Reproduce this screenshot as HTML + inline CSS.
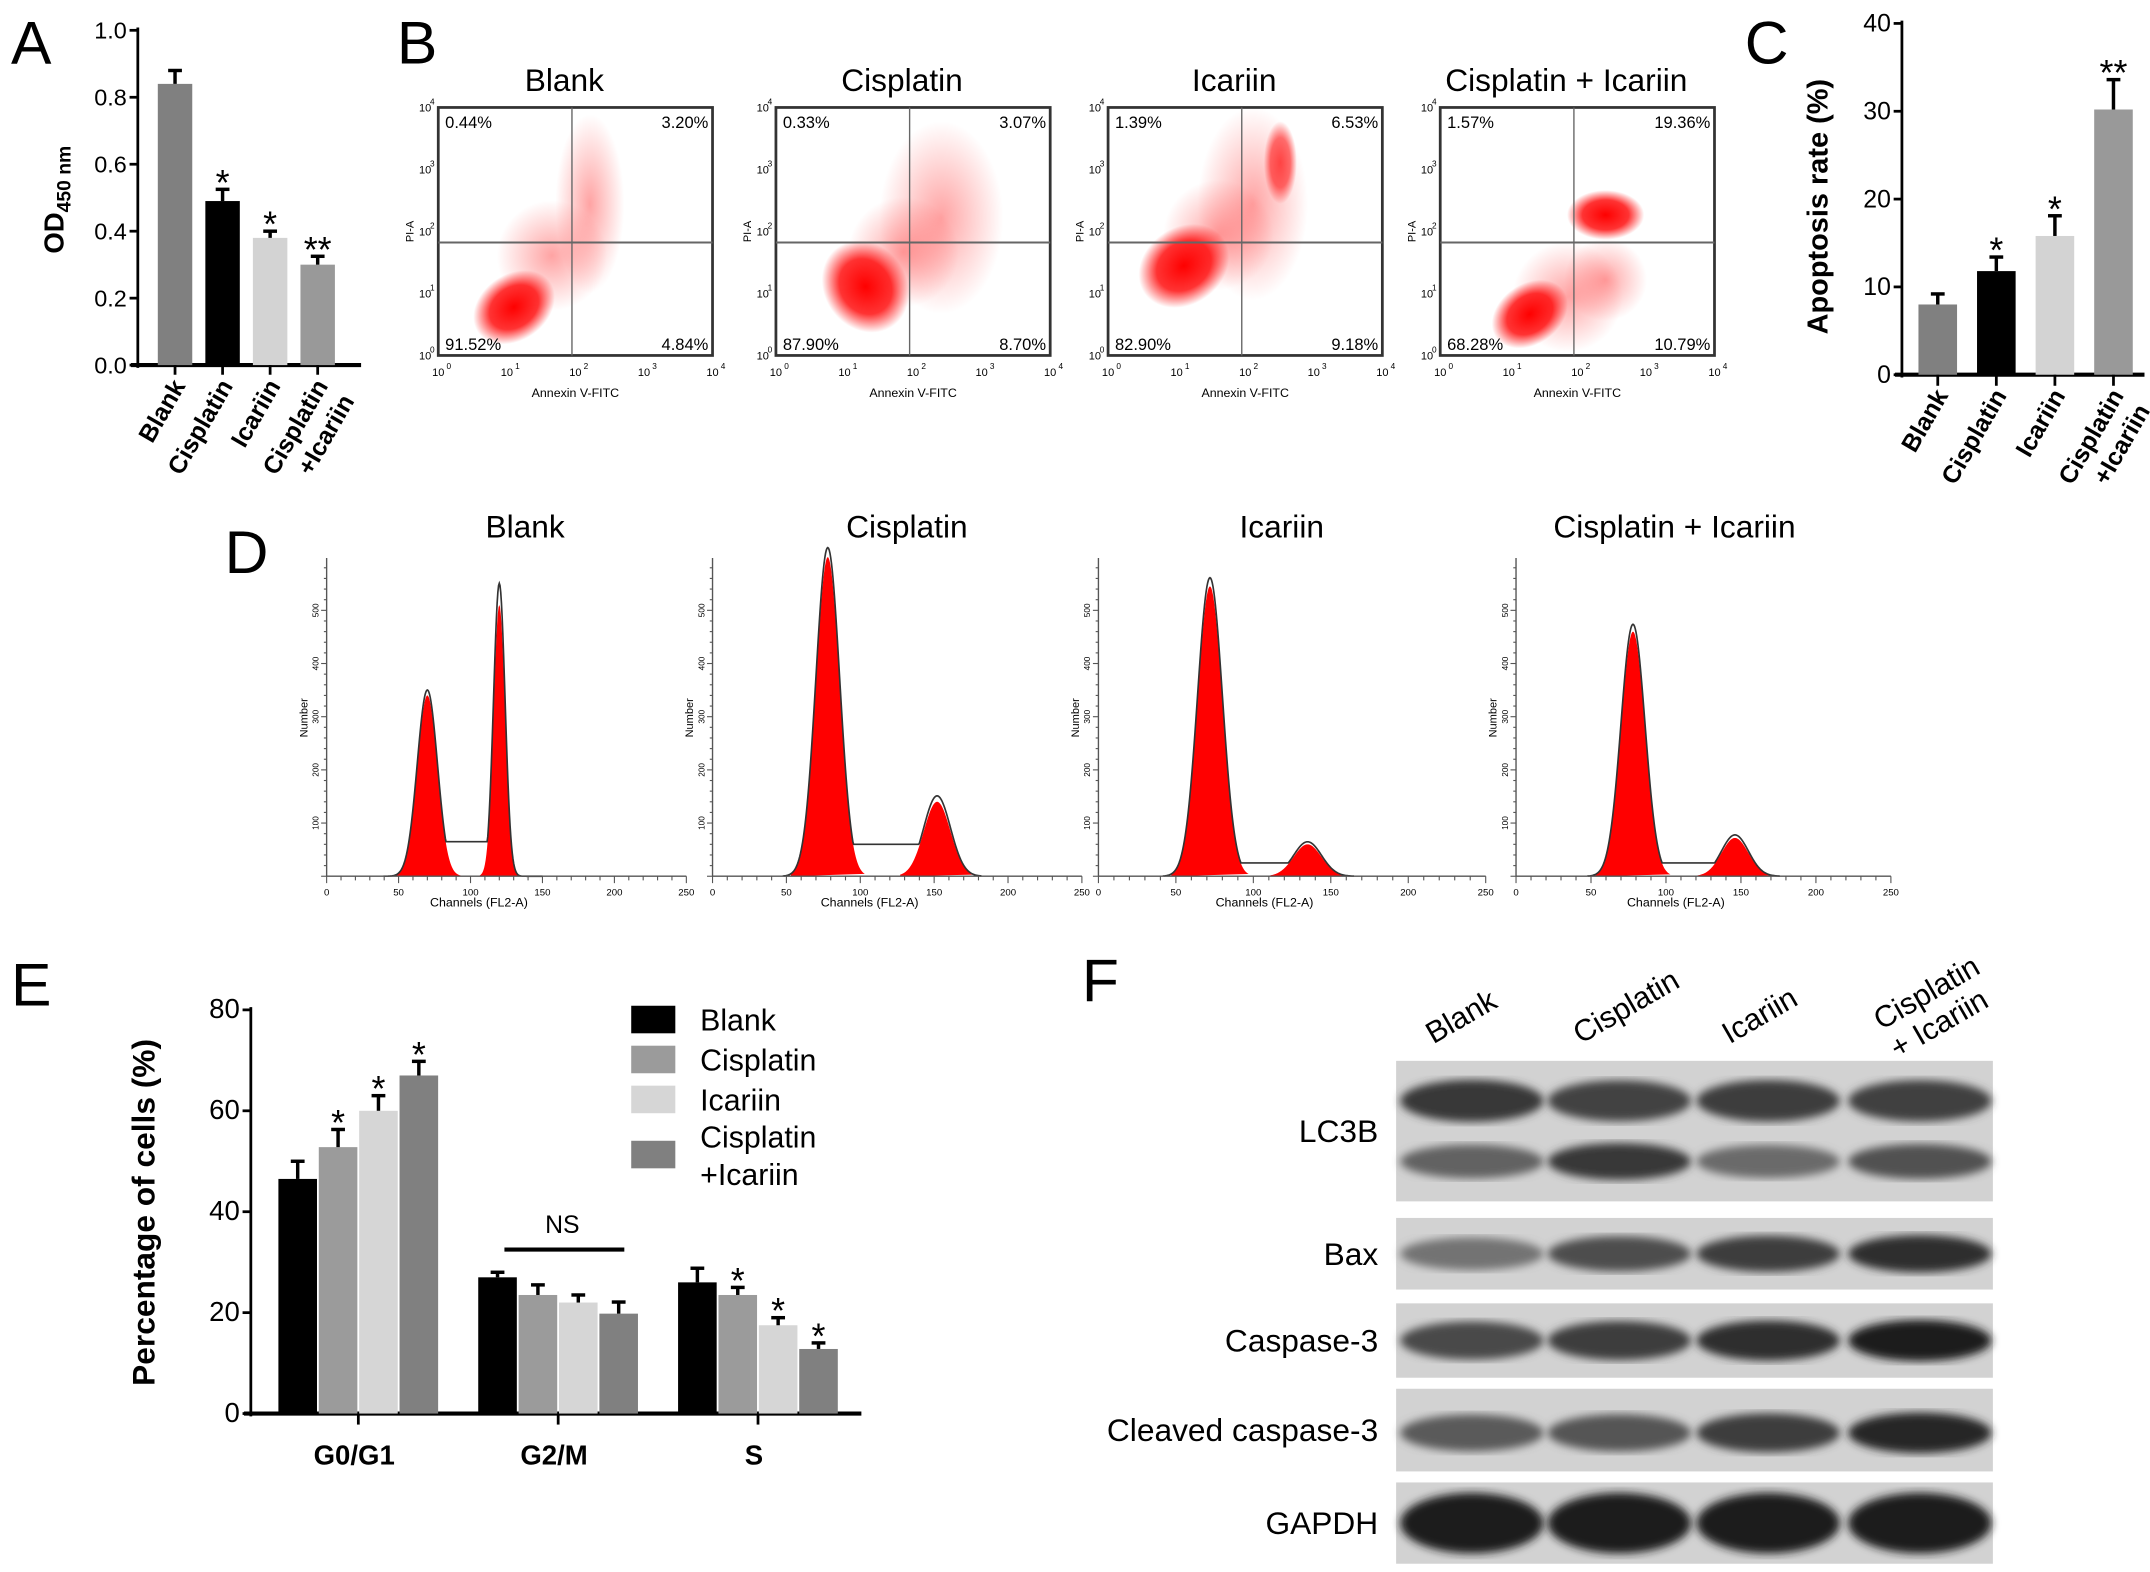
<!DOCTYPE html>
<html><head><meta charset="utf-8"><style>
html,body{margin:0;padding:0;background:#fff}
svg{display:block;font-family:"Liberation Sans",Arial,sans-serif}
</style></head><body>
<svg id="fig" width="2150" height="1572" viewBox="0 0 1560 1141" preserveAspectRatio="none" xmlns="http://www.w3.org/2000/svg">
<defs>
<filter id="blur3"><feGaussianBlur stdDeviation="3"/></filter>
<radialGradient id="dens"><stop offset="0" stop-color="#f00" stop-opacity="1"/><stop offset="0.6" stop-color="#f00" stop-opacity="0.8"/><stop offset="1" stop-color="#f00" stop-opacity="0"/></radialGradient>
<radialGradient id="diff"><stop offset="0" stop-color="#f33" stop-opacity="0.45"/><stop offset="1" stop-color="#f33" stop-opacity="0"/></radialGradient>
</defs>
<g id="root"></g>
</svg>
<script>
// ---- Panel A data ----
const aCats=["Blank","Cisplatin","Icariin","Cisplatin\n+Icariin"];
const aVals=[0.84,0.49,0.38,0.30];
const aErr=[0.04,0.035,0.02,0.025];
const aSig=["","*","*","**"];
const aTicks=[0,0.2,0.4,0.6,0.8,1.0];
// ---- Panel C data ----
const cVals=[8.0,11.8,15.8,30.2];
const cErr=[1.2,1.6,2.3,3.4];
const cSig=["","*","*","**"];
const cTicks=[0,10,20,30,40];
// ---- Panel B data ----
const bTitles=["Blank","Cisplatin","Icariin","Cisplatin + Icariin"];
const bUL=["0.44%","0.33%","1.39%","1.57%"];
const bUR=["3.20%","3.07%","6.53%","19.36%"];
const bLL=["91.52%","87.90%","82.90%","68.28%"];
const bLR=["4.84%","8.70%","9.18%","10.79%"];
// ---- Panel D data ----
const dTitles=["Blank","Cisplatin","Icariin","Cisplatin + Icariin"];
const dG1Ch=[70,78,72,78];
const dG1H=[340,600,545,460];
const dG2Ch=[120,152,135,146];
const dG2H=[510,140,60,72];
const dSH=[65,60,25,25];
// ---- Panel E data ----
const eGroups=["G0/G1","G2/M","S"];
const eSeries=["Blank","Cisplatin","Icariin","Cisplatin\n+Icariin"];
const eBlank=[46.5,27.0,26.0];
const eCis=[52.8,23.5,23.5];
const eIca=[60.0,22.0,17.5];
const eCombo=[67.0,19.8,12.8];
const eErrBlank=[3.5,1.0,2.8];
const eErrCis=[3.5,2.0,1.5];
const eErrIca=[3.0,1.5,1.5];
const eErrCombo=[2.8,2.3,1.2];
const eSigBlank=["","",""];
const eSigCis=["*","","*"];
const eSigIca=["*","","*"];
const eSigCombo=["*","","*"];
const eTicks=[0,20,40,60,80];
// ---- Panel F data ----
const fLanes=["Blank","Cisplatin","Icariin","Cisplatin\n+ Icariin"];
const fLC3Bup=[0.85,0.78,0.82,0.8];
const fLC3Blo=[0.6,0.85,0.55,0.7];
const fBax=[0.5,0.72,0.82,0.9];
const fCasp=[0.75,0.82,0.9,1.0];
const fCleaved=[0.65,0.68,0.82,0.95];
const fGAPDH=[1,1,1,1];

const NS="http://www.w3.org/2000/svg";
const root=document.getElementById('root');
function el(tag,attrs,parent){const e=document.createElementNS(NS,tag);for(const k in attrs)e.setAttribute(k,attrs[k]);(parent||root).appendChild(e);return e;}
function txt(s,attrs,parent){const e=el('text',attrs,parent);e.textContent=s;return e;}
function multi(lines,attrs,parent,dy){
  const t=el('text',attrs,parent);
  lines.forEach((s,j)=>{const ts=el('tspan',{x:0,dy:j?dy:0},t);ts.textContent=s;});
  return t;
}

[["A",8,46],["B",288,46],["C",1266,46],["D",163,416],["E",8,730],["F",785,727]].forEach(p=>{
  const t=txt(p[0],{x:p[1],y:p[2],'font-size':44});
  
  
});

function barChart(o){
  const g=el('g',{});
  
  
  const ys=v=>o.y0-(v-o.min)/(o.max-o.min)*(o.y0-o.y1);
  const ax=el('line',{x1:o.ax,y1:o.y1-2,x2:o.ax,y2:o.y0+2,stroke:'#000','stroke-width':2},g);
  
  o.ticks.forEach(t=>{
    el('line',{x1:o.ax-6,y1:ys(t),x2:o.ax,y2:ys(t),stroke:'#000','stroke-width':2},g);
    const l=txt(o.fmt(t),{x:o.ax-8,y:ys(t)+6,'text-anchor':'end','font-size':o.tfs||17},g);
    
  });
  const xl=el('line',{x1:o.ax-5,y1:o.y0,x2:o.xend,y2:o.y0,stroke:'#000','stroke-width':3},g);
  
  return {g,ys};
}
function bar(g,ys,cx,w,v,err,color,sig,name){
  const y=ys(v);
  const r=el('rect',{x:cx-w/2,y:y,width:w,height:ys(0)-y,fill:color},g);
  
  const ye=ys(v+err);
  el('line',{x1:cx,y1:y,x2:cx,y2:ye,stroke:'#000','stroke-width':2.5},g);
  el('line',{x1:cx-5,y1:ye,x2:cx+5,y2:ye,stroke:'#000','stroke-width':2.5},g);
  if(sig){const s=txt(sig,{x:cx,y:ye+4,'text-anchor':'middle','font-size':26},g);
    }
}

// ---- Panel A ----
(function(){
  const o={name:'panel-a-viability-chart',ax:100,y0:265,y1:22,min:0,max:1,ticks:aTicks,fmt:t=>t.toFixed(1),xend:262};
  const {g,ys}=barChart(o);
  const cols=['#808080','#000','#d3d3d3','#999'];
  aVals.forEach((v,i)=>{
    const cx=127+i*34.5;
    bar(g,ys,cx,25,v,aErr[i],cols[i],aSig[i],'bar-a-'+i);
    el('line',{x1:cx,y1:265,x2:cx,y2:272,stroke:'#000','stroke-width':2},g);
    const t=multi(aCats[i].split('\n'),{transform:`translate(${cx+8},280) rotate(-60)`,'text-anchor':'end','font-size':18,'font-weight':'bold'},g,22);
    
  });
  const yl=el('text',{transform:'translate(46,145) rotate(-90)','text-anchor':'middle','font-size':20,'font-weight':'bold'},g);
  yl.innerHTML='OD<tspan font-size="14" dy="5">450 nm</tspan>';
  
})();

// ---- Panel C ----
(function(){
  const o={name:'panel-c-apoptosis-chart',ax:1380,y0:272,y1:17,min:0,max:40,ticks:cTicks,fmt:t=>String(t),xend:1556,tfs:18};
  const {g,ys}=barChart(o);
  const cols=['#808080','#000','#d3d3d3','#999'];
  cVals.forEach((v,i)=>{
    const cx=1406+i*42.5;
    bar(g,ys,cx,28,v,cErr[i],cols[i],cSig[i],'bar-c-'+i);
    el('line',{x1:cx,y1:272,x2:cx,y2:280,stroke:'#000','stroke-width':2},g);
    const t=multi(aCats[i].split('\n'),{transform:`translate(${cx+8},287) rotate(-60)`,'text-anchor':'end','font-size':18,'font-weight':'bold'},g,22);
    
  });
  const yl=txt('Apoptosis rate (%)',{transform:'translate(1326,150) rotate(-90)','text-anchor':'middle','font-size':21,'font-weight':'bold'},g);
  
})();

// ---- Panel B ----
(function(){
  const xs=[318,563,804,1045];
  xs.forEach((x0,i)=>{
    const g=el('g',{});
    
    
    const w=199,y0=78,h=180;
    const t=txt(bTitles[i],{x:x0+w/2-8,y:66,'text-anchor':'middle','font-size':23},g);
    
    const blobs=[
      [[x0+55,y0+145,32,24],[x0+110,y0+70,25,65]],
      [[x0+65,y0+130,30,35],[x0+120,y0+80,45,70]],
      [[x0+55,y0+115,35,28],[x0+105,y0+70,40,70]],
      [[x0+65,y0+150,30,22],[x0+120,y0+125,30,30]]
    ][i];
    el('ellipse',{cx:blobs[1][0],cy:blobs[1][1],rx:blobs[1][2],ry:blobs[1][3],fill:'url(#diff)'},g);
    el('ellipse',{cx:(blobs[0][0]+blobs[1][0])/2,cy:(blobs[0][1]+blobs[1][1])/2,rx:40,ry:40,fill:'url(#diff)'},g);
    if(i==3) el('ellipse',{cx:x0+120,cy:y0+78,rx:28,ry:18,fill:'url(#dens)'},g);
    if(i==2) el('ellipse',{cx:x0+125,cy:y0+40,rx:12,ry:30,fill:'url(#dens)','opacity':0.7},g);
    el('ellipse',{cx:blobs[0][0],cy:blobs[0][1],rx:blobs[0][2],ry:blobs[0][3],fill:'url(#dens)',transform:`rotate(-35 ${blobs[0][0]} ${blobs[0][1]})`},g);
    el('rect',{x:x0,y:y0,width:w,height:h,fill:'none',stroke:'#333','stroke-width':2},g);
    el('line',{x1:x0+97,y1:y0,x2:x0+97,y2:y0+h,stroke:'#666','stroke-width':1},g);
    el('line',{x1:x0,y1:y0+98,x2:x0+w,y2:y0+98,stroke:'#666','stroke-width':1.5},g);
    [[bUL[i],x0+5,y0+15,'start'],[bUR[i],x0+w-3,y0+15,'end'],[bLL[i],x0+5,y0+h-4,'start'],[bLR[i],x0+w-3,y0+h-4,'end']].forEach(q=>{
      const s=txt(q[0],{x:q[1],y:q[2],'text-anchor':q[3],'font-size':12},g);
      
    });
    for(let k=0;k<5;k++){
      txt('10',{x:x0+k*w/4,y:y0+h+15,'text-anchor':'middle','font-size':8},g);
      txt(String(k),{x:x0+k*w/4+6,y:y0+h+10,'font-size':6},g);
      txt('10',{x:x0-14,y:y0+h-k*h/4+3,'font-size':8},g);
      txt(String(k),{x:x0-6,y:y0+h-k*h/4-2,'font-size':6},g);
    }
    const xl=txt('Annexin V-FITC',{x:x0+w/2,y:y0+h+30,'text-anchor':'middle','font-size':9},g);
    
    txt('PI-A',{transform:`translate(${x0-18},${y0+h/2}) rotate(-90)`,'text-anchor':'middle','font-size':8},g);
  });
})();

// ---- Panel D ----
(function(){
  const axes=[[237,498],[517,785],[797,1078],[1100,1372]];
  const titleX=[381,658,930,1215];
  const y0=636, unit=0.386;
  axes.forEach((a,i)=>{
    const g=el('g',{});
    
    
    const xs=c=>a[0]+c/250*(a[1]-a[0]);
    const ys=v=>y0-v*unit;
    const t=txt(dTitles[i],{x:titleX[i],y:390,'text-anchor':'middle','font-size':23},g);
    
    const gauss=(c,m,s,h)=>h*Math.exp(-0.5*((c-m)/s)**2);
    const s1=i==0?7:8, s2=i==0?4:9;
    let p1=`M${xs(dG1Ch[i]-25)},${y0}`,p2=`M${xs(dG2Ch[i]-25)},${y0}`,pl=`M${xs(dG1Ch[i]-30)},${y0}`;
    for(let c=dG1Ch[i]-25;c<=dG1Ch[i]+25;c+=0.5) p1+=` L${xs(c)},${ys(gauss(c,dG1Ch[i],s1,dG1H[i]))}`;
    for(let c=dG2Ch[i]-25;c<=dG2Ch[i]+25;c+=0.5) p2+=` L${xs(c)},${ys(gauss(c,dG2Ch[i],s2,dG2H[i]))}`;
    for(let c=dG1Ch[i]-30;c<=dG2Ch[i]+30;c+=0.5){
      let v=gauss(c,dG1Ch[i],s1,dG1H[i]*1.03)+gauss(c,dG2Ch[i],s2,dG2H[i]*1.08);
      if(c>dG1Ch[i]+s1 && c<dG2Ch[i]-s2) v=Math.max(v,dSH[i]);
      pl+=` L${xs(c)},${ys(v)}`;
    }
    const f1=el('path',{d:p1+' Z',fill:'#f00'},g);
    const f2=el('path',{d:p2+' Z',fill:'#f00'},g);
    const ol=el('path',{d:pl,fill:'none',stroke:'#333','stroke-width':1.2},g);
    el('line',{x1:a[0],y1:405,x2:a[0],y2:y0,stroke:'#555','stroke-width':1},g);
    el('line',{x1:a[0],y1:y0,x2:a[1],y2:y0,stroke:'#555','stroke-width':1},g);
    for(let v=0;v<=580;v+=20) el('line',{x1:a[0]-(v%100?2:4),y1:ys(v),x2:a[0],y2:ys(v),stroke:'#555','stroke-width':0.8},g);
    for(let v=100;v<=500;v+=100) txt(String(v),{transform:`translate(${a[0]-6},${ys(v)}) rotate(-90)`,'text-anchor':'middle','font-size':6},g);
    for(let c=0;c<=250;c+=10) el('line',{x1:xs(c),y1:y0,x2:xs(c),y2:y0+(c%50?3:5),stroke:'#555','stroke-width':0.8},g);
    for(let c=0;c<=250;c+=50) txt(String(c),{x:xs(c),y:y0+14,'text-anchor':'middle','font-size':7},g);
    const xl=txt('Channels (FL2-A)',{x:(a[0]+a[1])/2-20,y:y0+22,'text-anchor':'middle','font-size':9},g);
    
    txt('Number',{transform:`translate(${a[0]-14},${y0-115}) rotate(-90)`,'text-anchor':'middle','font-size':8},g);
  });
})();

// ---- Panel E ----
(function(){
  const o={name:'panel-e-cell-cycle-chart',ax:182,y0:1026,y1:733,min:0,max:80,ticks:eTicks,fmt:t=>String(t),xend:625,tfs:20};
  const {g,ys}=barChart(o);
  const series=[eBlank,eCis,eIca,eCombo], errs=[eErrBlank,eErrCis,eErrIca,eErrCombo], sigs=[eSigBlank,eSigCis,eSigIca,eSigCombo];
  const cols=['#000','#9b9b9b','#d6d6d6','#808080'];
  const centers=[260,405,550];
  eGroups.forEach((gname,gi)=>{
    series.forEach((s,si)=>{
      const cx=centers[gi]-44+si*29.3;
      bar(g,ys,cx,28,s[gi],errs[si][gi],cols[si],sigs[si][gi],'bar-'+gname.replace('/','-').toLowerCase()+'-'+si);
    });
    el('line',{x1:centers[gi],y1:1026,x2:centers[gi],y2:1034,stroke:'#000','stroke-width':2},g);
    const t=txt(gname,{x:centers[gi]-3,y:1063,'text-anchor':'middle','font-size':20,'font-weight':'bold'},g);
    
  });
  el('line',{x1:366,y1:907,x2:453,y2:907,stroke:'#000','stroke-width':3},g);
  const ns=txt('NS',{x:408,y:895,'text-anchor':'middle','font-size':18},g);
  
  const yl=txt('Percentage of cells (%)',{transform:'translate(112,880) rotate(-90)','text-anchor':'middle','font-size':23,'font-weight':'bold'},g);
  
  const ly=[740,769,798,838];
  eSeries.forEach((s,i)=>{
    const le=el('g',{},g);
    
    
    el('rect',{x:458,y:ly[i]-10,width:32,height:20,fill:cols[i]},le);
    s.split('\n').forEach((line,j)=>{
      txt(line,{x:508,y:ly[i]+8+(i==3?(j*27-13):0),'font-size':22},le);
    });
  });
})();

// ---- Panel F ----
(function(){
  const g=el('g',{});
  
  
  const lanes=[1070,1177,1285,1395];
  fLanes.forEach((l,i)=>{
    const lines=l.split('\n');
    const t=multi(lines,{transform:`translate(${lanes[i]-30},${lines.length>1?748:758}) rotate(-30)`,'font-size':22},g,24);
    
  });
  const strips=[['LC3B',770,872,[[fLC3Bup,-22,16],[fLC3Blo,22,14]]],['Bax',884,936,[[fBax,0,14]]],['Caspase-3',946,1000,[[fCasp,0,15]]],['Cleaved caspase-3',1008,1068,[[fCleaved,2,15]]],['GAPDH',1076,1135,[[fGAPDH,0,22]]]];
  strips.forEach(s=>{
    const sg=el('g',{},g);
    
    
    el('rect',{x:1013,y:s[1],width:433,height:s[2]-s[1],fill:'#d2d2d2'},sg);
    const mid=(s[1]+s[2])/2;
    s[3].forEach(b=>{
      b[0].forEach((v,i)=>{
        const c=Math.round(200-170*v);
        const band=el('ellipse',{cx:lanes[i]-2,cy:mid+b[1],rx:52,ry:b[2]*(0.7+0.3*v),fill:`rgb(${c},${c},${c})`,filter:'url(#blur3)'},sg);
        
      });
    });
    const lb=txt(s[0],{x:1000,y:mid+8,'text-anchor':'end','font-size':23},sg);
    
  });
})();
</script>
</body></html>
